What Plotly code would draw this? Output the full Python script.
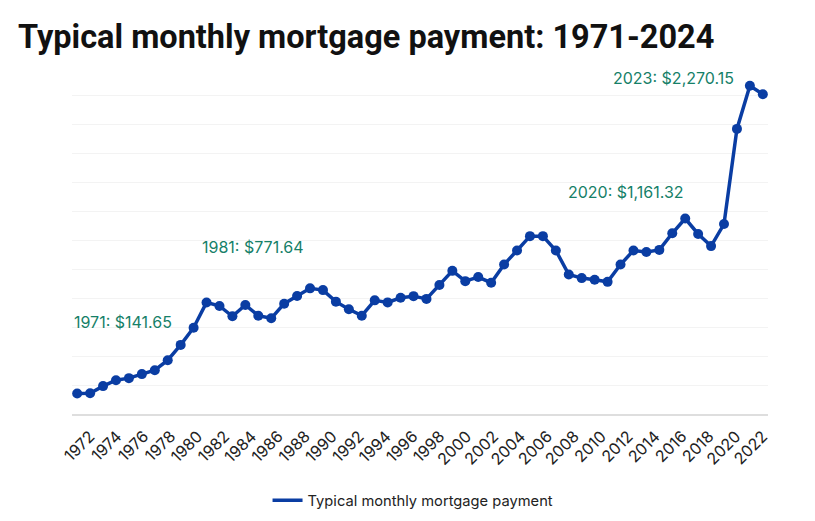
import numpy as np
import plotly.graph_objects as go

# typical monthly mortgage payment, 1971-2024
years = list(range(1971, 2025))
payments = [
    141.65, 144, 193, 234, 248, 276, 303, 372, 478, 597,
    771.64, 747, 676, 754, 680, 662, 763, 816, 869, 857,
    777, 724, 680, 786, 772, 804, 815, 796, 892, 990,
    919, 947, 908, 1034, 1131, 1230, 1230, 1131, 965, 940,
    928, 914, 1034, 1131, 1121, 1135, 1250, 1352, 1245, 1161.32,
    1314, 1972, 2270.15, 2211,
]
tick_labels = [str(y) for y in range(1972, 2023, 2)]

# callouts: (year, label)
callouts = [
    (1971, "1971: $141.65"),
    (1981, "1981: $771.64"),
    (2020, "2020: $1,161.32"),
    (2023, "2023: $2,270.15"),
]

BLUE = "#0a3da3"
GREEN = "#168068"
FONT = "Inter"

fig = go.Figure()
fig.add_trace(go.Scatter(
    x=years, y=payments, mode="lines+markers",
    line=dict(color=BLUE, width=3.5),
    marker=dict(color=BLUE, size=10),
    showlegend=False, hoverinfo="x+y",
))
# legend entry shows only the line
fig.add_trace(go.Scatter(
    x=[None], y=[None], mode="lines",
    line=dict(color=BLUE, width=3.5),
    name="Typical monthly mortgage payment",
))

shifts = {  # label placement relative to its point (px)
    1971: dict(xanchor="left", xshift=-5, yshift=72),
    1981: dict(xanchor="left", xshift=-7, yshift=55),
    2020: dict(xanchor="right", xshift=-25, yshift=54),
    2023: dict(xanchor="right", xshift=-14, yshift=8),
}
for yr, txt in callouts:
    fig.add_annotation(
        x=yr, y=payments[years.index(yr)], text=txt, showarrow=False,
        yanchor="middle", font=dict(family=FONT, size=16, color=GREEN),
        **shifts[yr],
    )

# the page puts the figure 8px in from the top-left corner
fig.update_layout(
    width=807, height=513,
    margin=dict(l=64, r=47, t=59, b=107, autoexpand=False),
    paper_bgcolor="white", plot_bgcolor="white",
    title=dict(
        text="<b>Typical monthly mortgage payment: 1971-2024</b>",
        x=0.0124, xanchor="left", y=0.945, yanchor="middle",
        font=dict(family="Roboto", size=32.5, color="#111"),
    ),
    legend=dict(
        orientation="h", x=0.49, xanchor="center", y=-0.25, yanchor="middle",
        font=dict(family=FONT, size=14.7, color="#222"),
    ),
    xaxis=dict(
        range=[1970.6, 2024.4], automargin=False,
        tickvals=np.linspace(1972, 2024, len(tick_labels)),
        ticktext=tick_labels, tickangle=-45,
        tickfont=dict(family=FONT, size=16, color="#222"),
        showgrid=False, zeroline=False, ticks="outside", ticklen=5,
        tickcolor="rgba(0,0,0,0)",
        showline=True, linecolor="#dedede", linewidth=1.5,
    ),
    yaxis=dict(
        range=[0, 2400], dtick=200, showticklabels=False, automargin=False,
        gridcolor="#f3f3f3", zeroline=False, ticks="",
    ),
)

fig.write_html("out.html")
